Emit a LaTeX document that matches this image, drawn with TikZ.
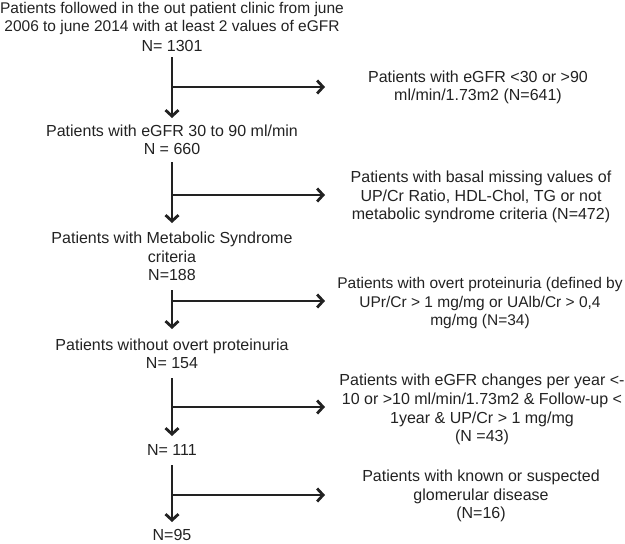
\documentclass[tikz,border=0pt]{standalone}
\usepackage{fontspec}
\setmainfont{Liberation Sans}
\usetikzlibrary{arrows.meta}
\definecolor{ink}{HTML}{222222}
\tikzset{
  lbl/.style={align=center, inner sep=0pt, text height=11.5pt, text depth=0pt,
    text=ink, font=\fontsize{16pt}{18.7pt}\selectfont},
  tight/.style={font=\fontsize{15.5pt}{18.7pt}\selectfont},
  flow/.style={draw=ink, line width=2.8pt,
    -{Straight Barb[length=6pt,width=13pt,line width=2.8pt]}},
}
\begin{document}
\begin{tikzpicture}[x=1pt,y=-1pt]
\useasboundingbox (0,0) rectangle (625,544);
% left column texts (y = cap centre of the last line)
\node[lbl,tight] (t1) at (172,26) {Patients followed in the out patient clinic from june\\2006 to june 2014 with at least 2 values of eGFR};
\node[lbl] (t1n) at (172,45.5) {N= 1301};
\node[lbl] (t2) at (172,149) {Patients with eGFR 30 to 90 ml/min\\N = 660};
\node[lbl] (t3) at (172,275) {Patients with Metabolic Syndrome\\criteria\\N=188};
\node[lbl] (t4) at (172,363) {Patients without overt proteinuria\\N= 154};
\node[lbl] (t5) at (172,450) {N= 111};
\node[lbl] (t6) at (172,535) {N=95};
% right column texts
\node[lbl] (r1) at (478,95) {Patients with eGFR <30 or >90\\ml/min/1.73m2 (N=641)};
\node[lbl] (r2) at (481,214) {Patients with basal missing values of\\UP/Cr Ratio, HDL-Chol, TG or not\\metabolic syndrome criteria (N=472)};
\node[lbl,tight] (r3) at (480,320) {Patients with overt proteinuria (defined by\\UPr/Cr > 1 mg/mg or UAlb/Cr > 0,4\\mg/mg (N=34)};
\node[lbl] (r4) at (482,436) {Patients with eGFR changes per year <-\\10 or >10 ml/min/1.73m2 \& Follow-up <\\1year \& UP/Cr > 1 mg/mg\\(N =43)};
\node[lbl] (r5) at (481,513) {Patients with known or suspected\\glomerular disease\\(N=16)};
% connector coordinates
\coordinate (v1s) at (172,57);  \coordinate (v1e) at (172,118); \coordinate (h1s) at (172,87);  \coordinate (h1e) at (325,87);
\coordinate (v2s) at (172,162); \coordinate (v2e) at (172,223); \coordinate (h2s) at (172,195); \coordinate (h2e) at (325,195);
\coordinate (v3s) at (172,290); \coordinate (v3e) at (172,329); \coordinate (h3s) at (172,301); \coordinate (h3e) at (325,301);
\coordinate (v4s) at (172,378); \coordinate (v4e) at (172,436); \coordinate (h4s) at (172,407); \coordinate (h4e) at (325,407);
\coordinate (v5s) at (172,465); \coordinate (v5e) at (172,522); \coordinate (h5s) at (172,495); \coordinate (h5e) at (325,495);
\foreach \i in {1,...,5}{
  \draw[flow] (v\i s) -- (v\i e);
  \draw[flow] (h\i s) -- (h\i e);
}
\end{tikzpicture}
\end{document}
